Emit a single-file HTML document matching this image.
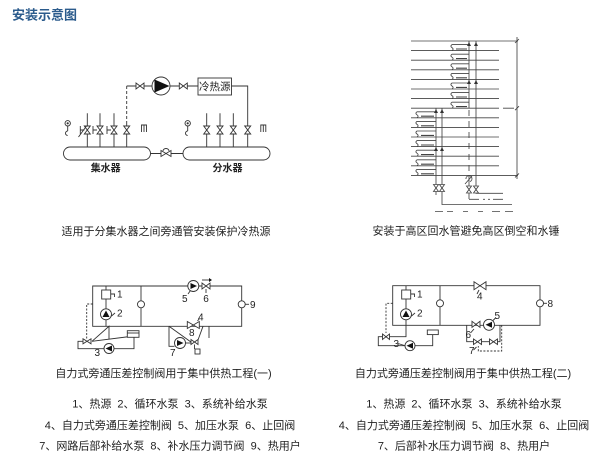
<!DOCTYPE html>
<html><head><meta charset="utf-8"><style>
html,body{margin:0;padding:0;background:#fff;}
svg{display:block;}
text{font-family:"Liberation Sans","Noto Sans CJK SC",sans-serif;fill:#222;}
</style></head><body>
<svg width="600" height="466" viewBox="0 0 600 466" xmlns="http://www.w3.org/2000/svg">
<text x="12" y="19.5" font-size="13" font-weight="bold" style="fill:#2b5b8c">安装示意图</text>

<!-- ===== Top-left diagram ===== -->
<g stroke="#333" stroke-width="0.9" fill="none">
  <rect x="63.5" y="147" width="87" height="13" rx="6.5"/>
  <rect x="183" y="147" width="87" height="13" rx="6.5"/>
  <line x1="150.5" y1="153.5" x2="183" y2="153.5"/>
  <path d="M161,150.5 L171,156.5 L171,150.5 L161,156.5 Z" fill="#fff"/>
  <path d="M163,151 A3,2.5 0 0 1 169,151"/>
  <path d="M126.7,86 H152"/>
  <path d="M170,86 H198"/>
  <rect x="198" y="78" width="33.5" height="17" fill="#fff"/>
  <path d="M231.5,86 H247.7 V147"/>
  <path d="M126.7,86 V124" stroke-dasharray="3,2"/>
  <path d="M126.7,124 V147"/>
  <path d="M136,83 L144,89 L144,83 L136,89 Z" fill="#fff"/>
  <path d="M179.3,83 L187.3,89 L187.3,83 L179.3,89 Z" fill="#fff"/>
  <circle cx="161" cy="86" r="9" fill="#fff"/>
  <path d="M87.3,113.3 V147 M100,113.3 V147 M114,113.3 V147"/>
  <path d="M84.3,126 L90.3,126 L84.3,134 L90.3,134 Z" fill="#fff"/>
  <path d="M97,126 L103,126 L97,134 L103,134 Z" fill="#fff"/>
  <path d="M111,126 L117,126 L111,134 L117,134 Z" fill="#fff"/>
  <path d="M123.7,126 L129.7,126 L123.7,134 L129.7,134 Z" fill="#fff"/>
  <path d="M80.3,126 V134 M80.3,130 H84.3 M93,126 V134 M93,130 H97 M107,126 V134 M107,130 H111"/>
  <path d="M78.5,137 L86.5,126"/>
  <path d="M206.7,113.3 V147 M220,113.3 V147 M233.3,113.3 V147"/>
  <path d="M203.7,126 L209.7,126 L203.7,134 L209.7,134 Z" fill="#fff"/>
  <path d="M217,126 L223,126 L217,134 L223,134 Z" fill="#fff"/>
  <path d="M230.3,126 L236.3,126 L230.3,134 L236.3,134 Z" fill="#fff"/>
  <path d="M244.7,126 L250.7,126 L244.7,134 L250.7,134 Z" fill="#fff"/>
  <circle cx="67.7" cy="123.3" r="2.7"/>
  <path d="M67.7,126 V131 M67.7,131 a2.2,2.2 0 1 0 0,4.4"/>
  <circle cx="187.7" cy="123.3" r="2.7"/>
  <path d="M187.7,126 V131 M187.7,131 a2.2,2.2 0 1 0 0,4.4"/>
  <path d="M141.5,132 V125 H146.5 V132 M144,125 V132"/>
  <path d="M260.8,132 V125 H265.8 V132 M263.3,125 V132"/>
</g>
<circle cx="67.7" cy="123.3" r="1.1" fill="#333"/>
<circle cx="187.7" cy="123.3" r="1.1" fill="#333"/>
<path d="M154.5,79.5 L169.5,86 L154.5,92.5 Z" fill="#111"/>
<text x="214.8" y="90" font-size="10.5" text-anchor="middle">冷热源</text>
<text x="105.7" y="171.5" font-size="10" font-weight="bold" text-anchor="middle">集水器</text>
<text x="227.5" y="171.5" font-size="10" font-weight="bold" text-anchor="middle">分水器</text>
<text x="166" y="235" font-size="11" text-anchor="middle">适用于分集水器之间旁通管安装保护冷热源</text>

<!-- ===== Top-right diagram ===== -->
<g stroke="#444" stroke-width="0.85" fill="none">
  <path d="M411,41 H518"/>
  <path d="M411,50.6 H499 M411,60.2 H499 M411,69.8 H499 M411,79.4 H499 M411,89 H499 M411,98.6 H499 M411,108.2 H499 M503,108.2 H514"/>
  <path d="M411,117.8 H499 M411,127.4 H499 M411,137 H499 M411,146.6 H499 M411,156.2 H499 M411,165.8 H499"/>
  <path d="M411,175.4 H518"/>
  <path d="M517,37 V179 M515,43 L519,39 M515,110.2 L519,106.2 M515,177.4 L519,173.4"/>
  <path d="M469,44.6 H452 c-1.5,1 -1.5,2 0,3 c1.5,1 1.5,2 0,3"/>
  <path d="M469,54.2 H452 c-1.5,1 -1.5,2 0,3 c1.5,1 1.5,2 0,3"/>
  <path d="M469,63.8 H452 c-1.5,1 -1.5,2 0,3 c1.5,1 1.5,2 0,3"/>
  <path d="M469,73.4 H452 c-1.5,1 -1.5,2 0,3 c1.5,1 1.5,2 0,3"/>
  <path d="M469,83 H452 c-1.5,1 -1.5,2 0,3 c1.5,1 1.5,2 0,3"/>
  <path d="M469,92.6 H452 c-1.5,1 -1.5,2 0,3 c1.5,1 1.5,2 0,3"/>
  <path d="M469,102.2 H452 c-1.5,1 -1.5,2 0,3 c1.5,1 1.5,2 0,3"/>
  <g stroke-width="1.1">
    <path d="M456,49 H467 M456,58.6 H467 M456,68.2 H467 M456,77.8 H467 M456,87.4 H467 M456,97 H467 M456,106.6 H467"/>
  </g>
  <path d="M436,111.8 H417 c-1.5,1 -1.5,2 0,3 c1.5,1 1.5,2 0,3"/>
  <path d="M436,121.4 H417 c-1.5,1 -1.5,2 0,3 c1.5,1 1.5,2 0,3"/>
  <path d="M436,131 H417 c-1.5,1 -1.5,2 0,3 c1.5,1 1.5,2 0,3"/>
  <path d="M436,140.6 H417 c-1.5,1 -1.5,2 0,3 c1.5,1 1.5,2 0,3"/>
  <path d="M436,150.2 H417 c-1.5,1 -1.5,2 0,3 c1.5,1 1.5,2 0,3"/>
  <path d="M436,159.8 H417 c-1.5,1 -1.5,2 0,3 c1.5,1 1.5,2 0,3"/>
  <path d="M436,169.4 H417 c-1.5,1 -1.5,2 0,3 c1.5,1 1.5,2 0,3"/>
  <g stroke-width="1.1">
    <path d="M421,116.2 H434 M421,125.8 H434 M421,135.4 H434 M421,145 H434 M421,154.6 H434 M421,164.2 H434 M421,173.8 H434"/>
  </g>
  <path d="M476,41 V193.3 H503"/>
  <path d="M469,41 V108.2"/>
  <path d="M469,110 V175" stroke-dasharray="6,5"/>
  <path d="M469,175 V199"/>
  <path d="M469,199.3 H479 M483,199.3 H485 M488,199.3 H490 M493,199.3 H503"/>
  <path d="M442,108.2 V204.5 H512"/>
  <path d="M436,108.2 V195"/>
  <path d="M433.5,184.5 L438.5,184.5 L433.5,191.5 L438.5,191.5 Z" fill="#fff"/>
  <path d="M439.5,184.5 L444.5,184.5 L439.5,191.5 L444.5,191.5 Z" fill="#fff"/>
  <path d="M466.5,186 L471.5,186 L466.5,193 L471.5,193 Z" fill="#fff"/>
  <path d="M473.5,186 L478.5,186 L473.5,193 L478.5,193 Z" fill="#fff"/>
  <path d="M466,179 a3,3 0 1 1 4,2.5 M465,184 L472,176"/>
  <path d="M435,211.5 H443 M447,211.5 H453 M463,211.5 H468 M478,211.5 H483 M492,211.5 H500 M505,211.5 H513"/>
</g>
<g fill="#333">
  <path d="M467,46 L469,42 L471,46 Z M474,46 L476,42 L478,46 Z"/>
  <path d="M467,84 L469,80 L471,84 Z M474,84 L476,80 L478,84 Z"/>
  <path d="M434,113 L436,109 L438,113 Z M440,113 L442,109 L444,113 Z"/>
  <path d="M434,151 L436,147 L438,151 Z M440,151 L442,147 L444,151 Z"/>
</g>
<text x="466" y="234.5" font-size="11" text-anchor="middle">安装于高区回水管避免高区倒空和水锤</text>

<!-- ===== Bottom-left diagram ===== -->
<g stroke="#333" stroke-width="0.9" fill="none">
  <path d="M92.7,286 H241.7 V326.3 H92.7 Z"/>
  <path d="M141,286 V326.3"/>
  <path d="M106,286 V326.3"/>
  <rect x="101.7" y="290" width="9" height="9" fill="#fff"/>
  <circle cx="106" cy="314.3" r="5.5" fill="#fff"/>
  <circle cx="141" cy="304.3" r="3.5" fill="#fff"/>
  <circle cx="241.7" cy="304.3" r="3.5" fill="#fff"/>
  <path d="M245.2,304.3 H249"/>
  <path d="M110.7,294 H114.5 V297"/>
  <path d="M111.5,316 L115,313"/>
  <path d="M92.7,304 H86.7 V339" stroke-dasharray="2,1.5"/>
  <path d="M92,341.3 L109,326.3 V339.5"/>
  <path d="M92,341.3 L130,336.5"/>
  <path d="M84,341.3 H78 V348.7 H104"/>
  <path d="M114,348.7 H134 V337.3"/>
  <rect x="127.3" y="330.7" width="11.7" height="6.6" fill="#fff"/>
  <path d="M127.3,333 H139"/>
  <path d="M83,338.8 L91,343.8 L91,338.8 L83,343.8 Z" fill="#fff"/>
  <circle cx="109" cy="348.5" r="5" fill="#fff"/>
  <path d="M169,326.3 V346.3 H174.5"/>
  <path d="M169,326.3 L192.3,343"/>
  <path d="M185.5,343 H191"/>
  <path d="M209,326.3 V338"/>
  <path d="M203,326.3 L198,340"/>
  <circle cx="180" cy="343" r="5.5" fill="#fff"/>
  <path d="M191,339.5 L198,344.5 L198,339.5 L191,344.5 Z" fill="#fff"/>
  <path d="M194.5,344.5 V349"/>
  <rect x="195" y="349" width="5" height="5"/>
  <path d="M187.3,321.5 L199.3,328.5 L199.3,321.5 L187.3,328.5 Z" fill="#fff"/>
  <path d="M197.5,321 L199.5,318.5"/>
  <circle cx="193.3" cy="286" r="5.5" fill="#fff"/>
  <path d="M190.5,290.5 L188,294"/>
  <path d="M202,283 L210,289 L210,283 L202,289 Z" fill="#fff"/>
  <path d="M206,289 V293"/>
  <path d="M202,280 H209"/>
</g>
<g fill="#111">
  <path d="M102.5,317 L106,310.5 L109.5,317 Z"/>
  <path d="M112,345.5 L105.5,348.5 L112,351.5 Z"/>
  <path d="M177,340 L183.5,343 L177,346 Z"/>
  <path d="M190.5,283 L197,286 L190.5,289 Z"/>
  <path d="M209,278 L212,280 L209,282 Z"/>
</g>
<g font-size="10">
  <text x="117" y="297.5">1</text>
  <text x="117" y="316.5">2</text>
  <text x="250" y="308">9</text>
  <text x="94.5" y="356">3</text>
  <text x="182" y="302">5</text>
  <text x="203.3" y="302">6</text>
  <text x="198" y="320.5">4</text>
  <text x="189" y="336">8</text>
  <text x="170" y="356">7</text>
</g>
<text x="163.5" y="377" font-size="11" text-anchor="middle">自力式旁通压差控制阀用于集中供热工程(一)</text>
<text x="170" y="407.5" font-size="11" text-anchor="middle" xml:space="preserve">1、热源  2、循环水泵  3、系统补给水泵</text>
<text x="170" y="429" font-size="11" text-anchor="middle" xml:space="preserve">4、自力式旁通压差控制阀  5、加压水泵  6、止回阀</text>
<text x="170" y="449.5" font-size="11" text-anchor="middle" xml:space="preserve">7、网路后部补给水泵  8、补水压力调节阀  9、热用户</text>

<!-- ===== Bottom-right diagram ===== -->
<g stroke="#333" stroke-width="0.9" fill="none">
  <path d="M392.7,285.7 H540 V325.3 H392.7 Z"/>
  <path d="M440,285.7 V325.3"/>
  <path d="M406,285.7 V336.7 H390"/>
  <rect x="401.7" y="290" width="9" height="9" fill="#fff"/>
  <circle cx="406" cy="314.3" r="5.5" fill="#fff"/>
  <circle cx="440" cy="303.3" r="3.5" fill="#fff"/>
  <circle cx="540" cy="303.3" r="3.5" fill="#fff"/>
  <path d="M543.5,303.3 H547"/>
  <path d="M410.7,294 H414.5 V297"/>
  <path d="M411.5,316 L415,313"/>
  <path d="M392.7,303.3 H386 V333" stroke-dasharray="2,1.5"/>
  <path d="M383,336.7 H378.3 V345.7 H405"/>
  <path d="M415,345.7 H432.7 V334.3"/>
  <rect x="427.3" y="330" width="11" height="4.6" fill="#fff"/>
  <path d="M382.5,334 L389.5,339.5 L389.5,334 L382.5,339.5 Z" fill="#fff"/>
  <circle cx="410" cy="345.7" r="5" fill="#fff"/>
  <path d="M398,343.5 L404.5,345.5"/>
  <path d="M474,281.7 L486,289.7 L486,281.7 L474,289.7 Z" fill="#fff"/>
  <path d="M479,290 L477,294"/>
  <path d="M466.7,325.3 V341.7 H500 V325.3"/>
  <path d="M501.7,325.3 V351 H478.3 V346" stroke-dasharray="2,1.5"/>
  <path d="M472,321.3 L480,327.3 L480,321.3 L472,327.3 Z" fill="#fff"/>
  <circle cx="489" cy="324.8" r="5.5" fill="#fff"/>
  <path d="M473.5,339 L481.5,344.5 L481.5,339 L473.5,344.5 Z" fill="#fff"/>
  <path d="M489.5,339 L497.5,344.5 L497.5,339 L489.5,344.5 Z" fill="#fff"/>
  <path d="M474,329 L470.5,333"/>
  <path d="M476.5,347 L473.5,350"/>
  <path d="M493,320.5 L495.5,318"/>
</g>
<g fill="#111">
  <path d="M402.5,317 L406,310.5 L409.5,317 Z"/>
  <path d="M413,342.7 L406.5,345.7 L413,348.7 Z"/>
  <path d="M492,321.8 L485.5,324.8 L492,327.8 Z"/>
</g>
<g font-size="10">
  <text x="417" y="297.5">1</text>
  <text x="417" y="316.5">2</text>
  <text x="547.5" y="307">8</text>
  <text x="393.5" y="347">3</text>
  <text x="477" y="299.5">4</text>
  <text x="494.5" y="319">5</text>
  <text x="465.5" y="338">6</text>
  <text x="469" y="354">7</text>
</g>
<text x="463" y="377" font-size="11" text-anchor="middle">自力式旁通压差控制阀用于集中供热工程(二)</text>
<text x="464" y="407.5" font-size="11" text-anchor="middle" xml:space="preserve">1、热源  2、循环水泵  3、系统补给水泵</text>
<text x="464" y="429" font-size="11" text-anchor="middle" xml:space="preserve">4、自力式旁通压差控制阀  5、加压水泵  6、止回阀</text>
<text x="464" y="449.5" font-size="11" text-anchor="middle" xml:space="preserve">7、后部补水压力调节阀  8、热用户</text>
</svg>
</body></html>
